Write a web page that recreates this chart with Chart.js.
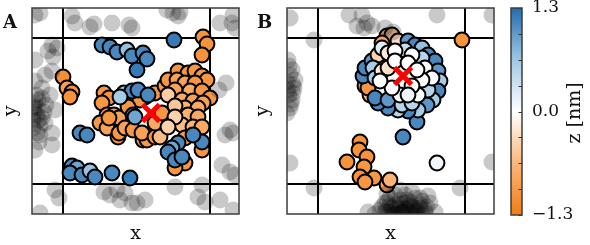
<!DOCTYPE html>
<html>
<head>
<meta charset="utf-8">
<script src="https://cdn.jsdelivr.net/npm/chart.js@4"></script>
<style>
  body { margin: 0; background: #fff; }
  #wrap { position: relative; width: 590px; height: 245px; }
  canvas { position: absolute; top: 0; }
</style>
</head>
<body>
<div id="wrap">
  <canvas id="pa" width="240" height="245" style="left:0"></canvas>
  <canvas id="pb" width="243" height="245" style="left:252px"></canvas>
  <canvas id="cb" width="90" height="245" style="left:500px"></canvas>
</div>
<script>
// box coordinates: 0..207 across, inner periodic box between the lines
const boxX = [0, 207];
const boxY = [0, 206];
const xLines = [30.5, 177.5];
const yLines = [30, 176];

// panel A: molecules (x, y, height z in nm)
const aX = [31, 35, 40, 38, 171, 175, 170,
  72, 77, 70, 75, 68, 75, 86, 82, 87, 77, 87, 93, 101, 111, 115, 121, 110, 123, 128, 123, 130, 113, 108, 96,
  123, 133, 136, 146, 156, 163, 170, 175, 145, 153, 163, 143, 158, 170, 178, 150, 161, 171, 153, 166, 156, 166,
  150, 161, 170, 153, 170, 153, 143,
  92, 100, 88, 106, 116, 101, 103, 170, 161, 146, 140, 136, 143, 150,
  136, 143, 143, 136,
  70, 78, 85, 95, 100, 111, 115, 105, 142,
  48, 55,
  40, 45, 38, 50, 58, 63, 80, 98];
const aY = [69, 80, 84, 89, 29, 36, 47,
  85, 90, 95, 107, 115, 120, 129, 107, 110, 110, 125, 120, 122, 132, 132, 125, 125, 129, 129, 115, 105, 89, 92, 99,
  85, 78, 72, 63, 65, 63, 68, 72, 72, 75, 75, 82, 83, 83, 90, 92, 93, 95, 100, 100, 107, 109,
  117, 119, 119, 130, 142, 155, 160,
  85, 83, 89, 82, 87, 107, 109, 134, 127, 135, 140, 144, 152, 149,
  87, 98, 109, 119,
  37, 39, 44, 42, 48, 45, 51, 62, 32,
  125, 127,
  158, 160, 165, 167, 163, 169, 165, 170];
const aZ = [-1.1, -0.9, -1.05, -1.05, -1.05, -1.05, -1.05,
  -1.0, -1.0, -1.0, -1.0, -1.0, -0.9, -1.0, -1.0, -0.9, -1.0, -1.0, -0.9, -1.0, -1.0, -1.0, -1.0, -0.9, -1.0, -0.6, -0.8, -1.0, -1.0, -1.0, -1.0,
  -1.0, -1.0, -1.0, -1.0, -1.0, -1.0, -1.0, -1.0, -0.9, -0.9, -1.0, -0.9, -0.8, -1.0, -1.0, -0.8, -0.9, -0.9, -0.7, -0.8, -0.7, -0.8,
  -0.6, -0.7, -0.8, -0.9, -1.0, -1.0, -1.0,
  0.7, 1.1, 0.6, 1.1, 1.1, 1.1, 0.9, 1.1, 1.1, 1.1, 0.9, 1.1, 1.1, 1.1,
  -0.45, -0.5, -0.4, -0.4,
  1.1, 1.1, 1.1, 0.7, 1.1, 1.1, 1.1, 1.2, 1.2,
  1.1, 1.1,
  1.1, 0.9, 1.1, 1.1, 0.7, 1.1, 1.1, 1.2];
// periodic images (grey)
const aGX = [3, 40, 43, 58, 62, 80, 97, 100, 135, 141, 148, 146, 188, 200, 203, 201, 8,
  187, 194, 198, 201, 193, 190, 198, 203, 188, 201,
  113, 105, 143, 170, 166, 173, 23, 27, 72, 78, 88, 100, 93, 85, 8,
  20, 25, 16, 21, 3, 13, 20, 3, 10, 18, 6, 2, 14, 23, 5, 7, 13, 1, 20, 7, 20, 8, 4, 12, 3, 2, 10, 6,
  3, 8, 1, 5, 10];
const aGY = [7, 8, 15, 19, 16, 15, 17, 20, 2, 5, 4, 8, 15, 15, 20, 7, 5,
  82, 75, 122, 125, 127, 157, 164, 167, 192, 202,
  192, 195, 179, 177, 189, 194, 182, 190, 184, 187, 192, 195, 185, 182, 205,
  37, 40, 43, 49, 52, 67, 63, 73, 80, 87, 92, 99, 97, 102, 107, 112, 115, 120, 125, 134, 137, 127, 87, 104, 142, 104, 110, 100,
  95, 118, 112, 125, 90];
const aCenter = { x: 119, y: 105 };

// panel B
const bX = [73, 72, 60, 80, 77, 73, 87, 78, 100, 103,
  175, 130, 116, 150,
  100, 105, 95, 111, 121, 128, 135, 141, 148, 151, 153, 151, 146, 140, 131, 121, 111, 101, 91, 83, 78, 81, 76, 78,
  85, 91, 88, 86, 88, 101, 115, 125, 141, 135, 118, 95, 101, 95, 101,
  108, 125, 138, 145, 135, 131, 125, 113, 105, 93, 108, 121, 130, 121];
const bY = [134, 142, 154, 149, 159, 169, 170, 174, 177, 172,
  32, 114, 129, 155,
  28, 27, 35, 33, 33, 37, 40, 47, 53, 63, 73, 83, 92, 97, 102, 103, 102, 100, 95, 87, 78, 80, 68, 60,
  53, 47, 90, 60, 70, 92, 97, 95, 82, 50, 42, 40, 45, 63, 60,
  43, 47, 60, 70, 72, 87, 78, 87, 80, 73, 53, 55, 62, 87];
const bZ = [-1.05, -1.05, -1.05, -1.05, -1.0, -1.05, -1.0, -1.0, -0.9, -0.7,
  -1.05, 1.1, 1.1, 0.1,
  -0.6, -0.5, -0.9, -0.3, 1.0, 1.1, 0.7, 1.1, 1.1, 1.0, 0.6, 1.1, 0.6, 1.0, 0.6, 1.1, 0.5, 1.1, 1.1, -0.6, -1.0, -1.0, 1.1, 1.1,
  1.0, -0.4, 1.1, 0.6, 0.6, 1.0, 0.5, 0.5, 0.5, 0.5, 0.4, 0.2, -0.2, -0.15, -0.25,
  0, 0, 0.05, 0.05, 0, 0, 0, 0, 0, 0, 0, 0, 0, 0.1];
const bGX = [3, 62, 75, 80, 77, 85, 70, 27, 150, 205, 98, 106,
  205, 173,
  3, 27, 1, 5, 3, 7, 2, 5, 3, 0, 8, 2, 6, 1, 4, 0, 6,
  93, 98, 103, 108, 113, 118, 123, 128, 133, 138, 143, 113, 103, 123, 133, 108, 118, 128, 98, 148, 88, 113, 125, 81, 141, 100,
  95, 105, 115, 120, 130, 135, 140, 110, 100, 125, 118, 108,
  100, 105, 110, 115, 120, 125, 130, 135, 103, 113, 123, 133, 108, 118, 128, 138];
const bGY = [10, 7, 7, 15, 20, 18, 18, 32, 7, 7, 20, 24,
  154, 180,
  155, 180, 52, 62, 67, 80, 87, 92, 100, 74, 72, 58, 77, 82, 96, 105, 85,
  202, 195, 190, 197, 192, 187, 194, 190, 197, 202, 195, 202, 204, 204, 190, 187, 200, 200, 204, 204, 206, 182, 184, 204, 188, 186,
  199, 200, 205, 192, 205, 193, 199, 206, 194, 199, 195, 207,
  203, 207, 200, 204, 201, 206, 203, 207, 198, 196, 198, 200, 206, 203, 206, 205];
const bCenter = { x: 116, y: 68 };

// colour bar
const zMin = -1.3, zMax = 1.3;
const cbTicks = [-1.3, -0.975, -0.65, -0.325, 0, 0.325, 0.65, 0.975, 1.3];
const cbLabels = ['\u22121.3', '', '', '', '0.0', '', '', '', '1.3'];

const SERIF = "'DejaVu Serif', serif";
Chart.defaults.font.family = SERIF;
Chart.defaults.color = '#111';
Chart.defaults.animation = false;
Chart.defaults.events = [];
Chart.defaults.plugins.legend.display = false;
Chart.defaults.plugins.tooltip.enabled = false;

// orange -> white -> blue
const zStops = [-1.3, -0.65, 0, 0.65, 1.3];
const zRGB = [[242, 125, 20], [252, 182, 122], [255, 255, 255], [160, 200, 228], [35, 108, 175]];
function zColor(z) {
  z = Math.max(zMin, Math.min(zMax, z));
  let i = 0;
  while (i < zStops.length - 2 && z > zStops[i + 1]) i++;
  const t = (z - zStops[i]) / (zStops[i + 1] - zStops[i]);
  const c = zRGB[i].map((v, k) => Math.round(v + (zRGB[i + 1][k] - v) * t));
  return `rgb(${c[0]},${c[1]},${c[2]})`;
}

const frame = {
  id: 'frame',
  afterDraw(chart) {
    const { ctx, chartArea: a } = chart;
    ctx.save();
    ctx.strokeStyle = '#3c3c3c';
    ctx.lineWidth = 1.5;
    ctx.strokeRect(a.left, a.top, a.right - a.left, a.bottom - a.top);
    ctx.restore();
  }
};

function letterPlugin(txt, x) {
  return {
    id: 'letter',
    afterDraw(chart) {
      const ctx = chart.ctx;
      ctx.save();
      ctx.font = `bold 18px ${SERIF}`;
      ctx.fillStyle = '#111';
      ctx.textBaseline = 'alphabetic';
      ctx.fillText(txt, x, 28);
      ctx.restore();
    }
  };
}

function pts(xs, ys) { return xs.map((x, i) => ({ x, y: ys[i] })); }

function panel(id, letter, letterX, yWidth, xs, ys, zs, gx, gy, center) {
  return new Chart(document.getElementById(id), {
    type: 'scatter',
    data: {
      datasets: [
        { data: [center], pointStyle: 'crossRot', pointRadius: 12, borderWidth: 5, borderColor: '#ff0000', backgroundColor: '#ff0000' },
        { data: pts(gx, gy), pointRadius: 8.5, borderWidth: 0, backgroundColor: 'rgba(0,0,0,0.21)' },
        { data: pts(xs, ys), pointRadius: 7.4, borderWidth: 2, borderColor: '#000', backgroundColor: zs.map(zColor) },
      ]
    },
    options: {
      responsive: false,
      devicePixelRatio: 1,
      layout: { autoPadding: false, padding: { top: 8, right: 1 } },
      scales: {
        x: {
          type: 'linear', min: boxX[0], max: boxX[1], z: 1,
          afterBuildTicks(s) { s.ticks = xLines.map(v => ({ value: v })); },
          afterFit(s) { s.height = 31; s.paddingLeft = s.paddingRight = 0; },
          ticks: { display: false },
          grid: { color: '#000', lineWidth: 2, drawTicks: false },
          border: { display: false },
          title: { display: true, text: 'x', font: { size: 19 }, padding: 0 }
        },
        y: {
          type: 'linear', min: boxY[0], max: boxY[1], reverse: true, z: 1,
          afterBuildTicks(s) { s.ticks = yLines.map(v => ({ value: v })); },
          afterFit(s) { s.width = yWidth; s.paddingTop = s.paddingBottom = 0; },
          ticks: { display: false },
          grid: { color: '#000', lineWidth: 2, drawTicks: false },
          border: { display: false },
          title: { display: true, text: 'y', font: { size: 19 }, padding: 0 }
        }
      }
    },
    plugins: [frame, letterPlugin(letter, letterX)]
  });
}

panel('pa', 'A', 3, 32, aX, aY, aZ, aGX, aGY, aCenter);
panel('pb', 'B', 5, 35, bX, bY, bZ, bGX, bGY, bCenter);

// colour bar
const cbMarks = {
  id: 'cbMarks',
  afterDatasetsDraw(chart) {
    const { ctx, chartArea: a } = chart;
    const s = chart.scales.y;
    ctx.save();
    ctx.strokeStyle = '#333';
    ctx.lineWidth = 1;
    cbTicks.forEach(v => {
      const y = Math.round(s.getPixelForValue(v)) + 0.5;
      ctx.beginPath();
      ctx.moveTo(a.right - 3.5, y);
      ctx.lineTo(a.right, y);
      ctx.stroke();
    });
    ctx.restore();
  }
};
const cbTitle = {
  id: 'cbTitle',
  afterDraw(chart) {
    const ctx = chart.ctx;
    ctx.save();
    ctx.translate(75, 113);
    ctx.rotate(-Math.PI / 2);
    ctx.font = `19px ${SERIF}`;
    ctx.fillStyle = '#111';
    ctx.textAlign = 'center';
    ctx.textBaseline = 'middle';
    ctx.fillText('z [nm]', 0, 0);
    ctx.restore();
  }
};

new Chart(document.getElementById('cb'), {
  type: 'bar',
  data: {
    labels: [''],
    datasets: [{
      data: [[zMin, zMax]],
      borderWidth: 0,
      barPercentage: 1,
      categoryPercentage: 1,
      backgroundColor(c) {
        const a = c.chart.chartArea;
        if (!a) return zColor(0);
        const g = c.chart.ctx.createLinearGradient(0, a.bottom, 0, a.top);
        for (let k = 0; k <= 26; k++) g.addColorStop(k / 26, zColor(zMin + k * (zMax - zMin) / 26));
        return g;
      }
    }]
  },
  options: {
    responsive: false,
    devicePixelRatio: 1,
    layout: { autoPadding: false, padding: { top: 8, bottom: 30, left: 11 } },
    scales: {
      x: { display: false },
      y: {
        position: 'right', min: zMin, max: zMax,
        afterBuildTicks(s) { s.ticks = cbTicks.map(v => ({ value: v })); },
        afterFit(s) { s.width = 68; s.paddingTop = s.paddingBottom = 0; },
        grid: { display: false, drawTicks: false },
        border: { display: false },
        ticks: { autoSkip: false, padding: 10, font: { size: 17 }, callback: (v, i) => cbLabels[i] }
      }
    }
  },
  plugins: [frame, cbMarks, cbTitle]
});
</script>
</body>
</html>
